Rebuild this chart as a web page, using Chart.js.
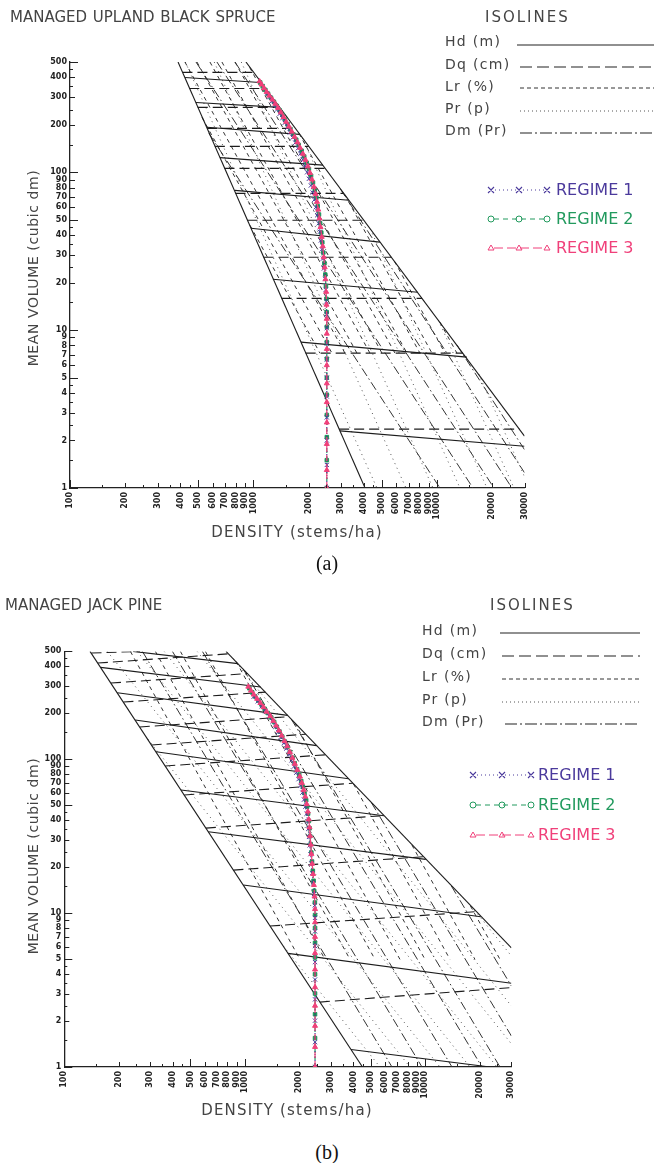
<!DOCTYPE html>
<html>
<head>
<meta charset="utf-8">
<script src="https://cdn.jsdelivr.net/npm/chart.js@4.4.0/dist/chart.umd.min.js"></script>
<style>
  body { margin: 0; background: #fff; }
  #page { position: relative; width: 654px; height: 1163px; overflow: hidden; font-family: "DejaVu Sans", sans-serif; color: #444; }
  .t { position: absolute; white-space: nowrap; line-height: 1; }
  .ttl { font-size: 15px; letter-spacing: 0px; word-spacing: 1px; }
  .iso { font-size: 15px; letter-spacing: 2px; }
  .row { font-size: 14px; letter-spacing: 1.3px; }
  .reg { font-size: 16px; }
  .xt { font-size: 15px; letter-spacing: 1.2px; width: 300px; text-align: center; }
  .yt { font-size: 14px; letter-spacing: 0.6px; transform: translate(-50%, -50%) rotate(-90deg); }
  .cap { font-family: "Liberation Serif", serif; font-size: 20px; color: #111; transform: translate(-50%, -50%); }
  svg { position: absolute; overflow: visible; }
  canvas { position: absolute; left: 0; }
</style>
</head>
<body>
<div id="page">
  <canvas id="chartA" width="654" height="545" style="top:0px"></canvas>
  <canvas id="chartB" width="654" height="545" style="top:590px"></canvas>

  <!-- panel (a) texts -->
  <div class="t ttl" style="left:10px; top:10px">MANAGED UPLAND BLACK SPRUCE</div>
  <div class="t iso" style="left:485px; top:10px">ISOLINES</div>
  <div class="t row" style="left:445px; top:34px">Hd (m)</div>
  <div class="t row" style="left:445px; top:57px">Dq (cm)</div>
  <div class="t row" style="left:445px; top:79px">Lr (%)</div>
  <div class="t row" style="left:445px; top:101px">Pr (p)</div>
  <div class="t row" style="left:445px; top:123px">Dm (Pr)</div>
  <svg style="left:517px; top:45px" width="137" height="1"><line x1="0" y1="0" x2="137" y2="0" stroke="#222" stroke-width="1.2"/></svg>
  <svg style="left:520px; top:67px" width="134" height="1"><line x1="0" y1="0" x2="134" y2="0" stroke="#222" stroke-width="1.2" stroke-dasharray="12 5"/></svg>
  <svg style="left:520px; top:88px" width="134" height="1"><line x1="0" y1="0" x2="134" y2="0" stroke="#333" stroke-width="1" stroke-dasharray="4 3"/></svg>
  <svg style="left:520px; top:111px" width="134" height="1"><line x1="0" y1="0" x2="134" y2="0" stroke="#555" stroke-width="1" stroke-dasharray="1 3"/></svg>
  <svg style="left:520px; top:133px" width="134" height="1"><line x1="0" y1="0" x2="134" y2="0" stroke="#222" stroke-width="1.2" stroke-dasharray="12 3 2 3"/></svg>

  <svg style="left:491px; top:190px" width="56" height="1">
    <line x1="0" y1="0" x2="56" y2="0" stroke="#4b3a9c" stroke-width="1" stroke-dasharray="1 3"/>
    <path d="M-3,-3 L3,3 M-3,3 L3,-3 M25,-3 L31,3 M25,3 L31,-3 M53,-3 L59,3 M53,3 L59,-3" stroke="#4b3a9c" stroke-width="1.1"/>
  </svg>
  <svg style="left:491px; top:219px" width="56" height="1">
    <line x1="3" y1="0" x2="53" y2="0" stroke="#229a5e" stroke-width="1" stroke-dasharray="5 4"/>
    <circle cx="0" cy="0" r="3" fill="none" stroke="#229a5e"/><circle cx="28" cy="0" r="3" fill="none" stroke="#229a5e"/><circle cx="56" cy="0" r="3" fill="none" stroke="#229a5e"/>
  </svg>
  <svg style="left:491px; top:248px" width="56" height="1">
    <line x1="3" y1="0" x2="53" y2="0" stroke="#f0407a" stroke-width="1" stroke-dasharray="9 4"/>
    <path d="M-3,2 L0,-3 L3,2 Z M25,2 L28,-3 L31,2 Z M53,2 L56,-3 L59,2 Z" fill="none" stroke="#f0407a" stroke-width="1"/>
  </svg>
  <div class="t reg" style="left:556px; top:182px; color:#4b3a9c">REGIME 1</div>
  <div class="t reg" style="left:556px; top:211px; color:#229a5e">REGIME 2</div>
  <div class="t reg" style="left:556px; top:240px; color:#f0407a">REGIME 3</div>
  <div class="t yt" style="left:33px; top:268px">MEAN VOLUME (cubic dm)</div>
  <div class="t xt" style="left:147px; top:525px">DENSITY (stems/ha)</div>
  <div class="t cap" style="left:327px; top:563px">(a)</div>

  <!-- panel (b) texts -->
  <div class="t ttl" style="left:5px; top:598px">MANAGED JACK PINE</div>
  <div class="t iso" style="left:490px; top:598px">ISOLINES</div>
  <div class="t row" style="left:422px; top:623px">Hd (m)</div>
  <div class="t row" style="left:422px; top:646px">Dq (cm)</div>
  <div class="t row" style="left:422px; top:669px">Lr (%)</div>
  <div class="t row" style="left:422px; top:692px">Pr (p)</div>
  <div class="t row" style="left:422px; top:714px">Dm (Pr)</div>
  <svg style="left:500px; top:633px" width="140" height="1"><line x1="0" y1="0" x2="140" y2="0" stroke="#222" stroke-width="1.2"/></svg>
  <svg style="left:502px; top:656px" width="138" height="1"><line x1="0" y1="0" x2="138" y2="0" stroke="#222" stroke-width="1.2" stroke-dasharray="12 5"/></svg>
  <svg style="left:502px; top:679px" width="138" height="1"><line x1="0" y1="0" x2="138" y2="0" stroke="#333" stroke-width="1" stroke-dasharray="4 3"/></svg>
  <svg style="left:502px; top:702px" width="138" height="1"><line x1="0" y1="0" x2="138" y2="0" stroke="#555" stroke-width="1" stroke-dasharray="1 3"/></svg>
  <svg style="left:505px; top:724px" width="135" height="1"><line x1="0" y1="0" x2="135" y2="0" stroke="#222" stroke-width="1.2" stroke-dasharray="12 3 2 3"/></svg>

  <svg style="left:473px; top:775px" width="58" height="1">
    <line x1="0" y1="0" x2="58" y2="0" stroke="#4b3a9c" stroke-width="1" stroke-dasharray="1 3"/>
    <path d="M-3,-3 L3,3 M-3,3 L3,-3 M26,-3 L32,3 M26,3 L32,-3 M55,-3 L61,3 M55,3 L61,-3" stroke="#4b3a9c" stroke-width="1.1"/>
  </svg>
  <svg style="left:473px; top:805px" width="58" height="1">
    <line x1="3" y1="0" x2="55" y2="0" stroke="#229a5e" stroke-width="1" stroke-dasharray="5 4"/>
    <circle cx="0" cy="0" r="3" fill="none" stroke="#229a5e"/><circle cx="29" cy="0" r="3" fill="none" stroke="#229a5e"/><circle cx="58" cy="0" r="3" fill="none" stroke="#229a5e"/>
  </svg>
  <svg style="left:473px; top:835px" width="58" height="1">
    <line x1="3" y1="0" x2="55" y2="0" stroke="#f0407a" stroke-width="1" stroke-dasharray="9 4"/>
    <path d="M-3,2 L0,-3 L3,2 Z M26,2 L29,-3 L32,2 Z M55,2 L58,-3 L61,2 Z" fill="none" stroke="#f0407a" stroke-width="1"/>
  </svg>
  <div class="t reg" style="left:538px; top:767px; color:#4b3a9c">REGIME 1</div>
  <div class="t reg" style="left:538px; top:797px; color:#229a5e">REGIME 2</div>
  <div class="t reg" style="left:538px; top:827px; color:#f0407a">REGIME 3</div>
  <div class="t yt" style="left:33px; top:856px">MEAN VOLUME (cubic dm)</div>
  <div class="t xt" style="left:137px; top:1103px">DENSITY (stems/ha)</div>
  <div class="t cap" style="left:327px; top:1152px">(b)</div>
</div>

<script>
// axis ticks and labels (stems/ha on x, cubic dm on y)
const xTickVals = [100,150,200,250,300,350,400,450,500,600,700,800,900,1000,1500,2000,2500,3000,3500,4000,4500,5000,6000,7000,8000,9000,10000,15000,20000,25000,30000];
const xLabelVals = [100,200,300,400,500,600,700,800,900,1000,2000,3000,4000,5000,6000,7000,8000,9000,10000,20000,30000];
const yTickVals = [1,1.5,2,2.5,3,3.5,4,4.5,5,6,7,8,9,10,15,20,25,30,35,40,45,50,60,70,80,90,100,150,200,250,300,350,400,450,500];
const yLabelVals = [1,2,3,4,5,6,7,8,9,10,20,30,40,50,60,70,80,90,100,200,300,400,500];

// isolines, each [N1, V1, N2, V2] -- (a) black spruce
const boundA = [[388,500,4055,1],[910,500,30000,2.13]];
const hdA = [[424,399,1084,371],[486,277,1394,258],[558,193,1780,174],[656,124,2392,111],[792,76.9,3311,66.5],[969,44.2,4887,36.1],[1276,21.0,7870,17.4],[1815,8.40,14550,6.75],[2958,2.30,30000,1.84]];
const dqA = [[410,430,1000,430],[447,340,1161,340],[497,258,1387,258],[558,190,1687,190],[616,146,1999,146],[695,106,2455,106],[798,73.6,3101,73.6],[927,49.7,4000,49.7],[1135,29.0,5652,29.0],[1423,15.9,8299,15.9],[1925,7.15,13870,7.15],[2930,2.36,28250,2.36]];
const lrA = [[957,46.2,2303,7.15],[524,223,2678,7.15],[423,500,3152,7.15],[492,500,3664,7.15],[579,500,4314,7.15],[673,500,5015,7.15],[793,500,5904,7.15],[953,462,6863,7.15],[1770,176.5,8080,7.15],[3133,72.6,9394,7.15],[5867,27.3,11060,7.15],[10380,11.23,12850,7.15]];
const prA = [[425,500,4710,1],[611,500,6778,1],[858,500,9512,1],[1845,165.4,13350,1],[4330,43.8,18730,1],[10180,11.57,26280,1],[16880,5.27,30000,1.18]];
const dmA = [[572,176.5,10380,1],[486,500,15710,1],[632,500,20450,1],[793,500,25630,1],[2972,78.6,30000,1.25],[12850,8.04,30000,1.75]];

// regimes (a)
const r1A_V = [1.0,1.4,2.0,2.8,3.8,5.0,6.5,8.2,10.3,12.6,15.2,18,21.2,24.6,28.4,32.5,37,42,47.5,53.5,60,67,74.5,82.5,91,100,110,120,131,142,154,166,179,192,206,220,235,250,266,282,299,316];
const r1A_N = [2510,2510,2510,2510,2510,2510,2510,2510,2510,2505,2495,2475,2450,2420,2390,2360,2330,2300,2265,2225,2185,2145,2100,2055,2005,1960,1905,1855,1800,1745,1690,1635,1580,1530,1480,1435,1390,1345,1300,1260,1220,1185];
const r2A_V = [1.0,1.5,2.1,2.9,3.9,5.0,6.6,8.4,10.5,13,15.8,19,22.5,26.5,31,36,41.5,47.5,54,61,69,77,86,95,105,115,126,137,149,161,174,188,202,216,231,247,263,280,297,315,333,352,371];
const r2A_N = [2510,2510,2510,2510,2510,2510,2510,2510,2510,2506,2498,2483,2462,2435,2402,2372,2342,2308,2275,2240,2200,2158,2110,2060,2005,1950,1890,1830,1765,1710,1650,1590,1535,1485,1438,1388,1340,1292,1245,1200,1160,1122,1088];
const r3A_V = [1.0,1.3,1.9,2.6,3.5,4.6,6.0,7.6,9.5,11.8,14.5,17.5,21,25,29,34,39,45,51,58,65,73,81,90,99,109,120,131,143,155,168,181,195,209,224,240,256,272,289,306,323,341,360,377];
const r3A_N = [2510,2510,2510,2510,2510,2510,2510,2510,2510,2508,2500,2490,2470,2445,2417,2385,2355,2320,2290,2255,2220,2180,2135,2085,2035,1980,1920,1860,1795,1738,1675,1618,1562,1508,1460,1410,1362,1315,1268,1220,1180,1143,1106,1080];

// isolines (b) jack pine
const boundB = [[138.8,500,4488,1],[787,500,30000,5.93]];
const hdB = [[240.3,500,917,416.4],[159.1,394,1222,293.5],[196.6,269.5,1729,192.2],[247.1,179.2,2502,122.2],[322.1,111.5,3753,74.5],[443.1,62.9,5905,42.8],[628.5,33.7,10065,22.3],[981.1,15.2,20300,9.46],[1735,5.47,30000,3.50],[3876,1.30,22830,1]];
const dqB = [[141.5,488,262.7,500],[153.5,420.2,814.4,482.1],[181.4,311.5,1036,359.1],[212.6,234.5,1300,271.9],[262.0,161.4,1755,188.5],[304.6,123.3,2178,144.9],[362.6,90.1,2800,106.5],[462.2,58.4,3965,69.6],[608.8,35.6,5897,42.9],[864.7,19.0,9748,23.2],[1381,8.23,19070,10.2],[2607,2.64,30000,3.28]];
const lrB = [[232.4,500,2022,5],[319.7,500,2782,5],[439.8,500,3826,5],[604.9,500,5264,5],[896.1,429.1,7239,5],[1892,172.1,9961,5],[4001,68.9,13700,5],[8438,27.6,18850,5],[17800,11.1,25940,5]];
const prB = [[172.9,500,12060,1],[253.5,500,17690,1],[357.6,500,24960,1],[544.9,500,30000,1.414],[862.5,449.5,30000,2.49],[18710,10.46,30000,5.26],[289.7,134.9,8226,1],[1634,6.11,5610,1]];
const dmB = [[270.8,500,6539,1],[397.2,500,9588,1],[582.2,500,14060,1],[978.6,385.2,20610,1],[1808,181.9,25940,1],[5022,52.2,30000,1.589],[13950,14.97,30000,3.357]];

// regimes (b)
const r1B_V = [1.0,1.45,2.0,2.75,3.7,4.8,6.1,7.6,9.3,11.2,13.3,15.6,18.2,21,24.1,27.5,31.2,35.2,39.5,44.1,49,54.5,60.5,67,74,81.5,89.5,98,107,117,127,138,150,162,175,189,204,220,237,254];
const r1B_N = [2450,2450,2450,2450,2450,2450,2450,2450,2450,2440,2420,2395,2365,2335,2310,2288,2268,2248,2225,2198,2165,2128,2085,2035,1985,1930,1875,1815,1760,1700,1645,1585,1530,1478,1425,1370,1300,1240,1180,1120];
const r2B_V = [1.0,1.54,2.2,3.0,4.0,5.15,6.4,8.0,9.7,11.7,13.9,16.2,18.8,21.6,24.7,28,31.6,35.5,39.7,44.2,49,54,60,66,72,79,86,94,102,111,120,130,140,151,162,174,186,199,212,226,240,255,271,288];
const r2B_N = [2450,2450,2450,2450,2450,2450,2450,2450,2450,2445,2425,2405,2382,2358,2337,2318,2302,2286,2266,2242,2216,2188,2142,2097,2055,2003,1948,1890,1835,1778,1722,1665,1612,1556,1505,1455,1402,1340,1288,1238,1190,1140,1098,1060];
const r3B_V = [1.0,1.35,1.85,2.5,3.3,4.3,5.5,7.0,8.7,10.6,12.8,15.2,17.9,20.9,24.2,27.8,31.7,36,40.6,45.6,51,57,63,70,77,85,93,102,111,121,131,142,153,165,177,190,203,217,231,246,262,278,295];
const r3B_N = [2450,2450,2450,2450,2450,2450,2450,2450,2450,2450,2435,2415,2390,2362,2340,2320,2302,2284,2262,2235,2205,2165,2120,2070,2020,1955,1895,1835,1778,1718,1660,1602,1548,1492,1440,1385,1322,1270,1220,1170,1122,1082,1046];

const PURPLE = '#4b3a9c', GREEN = '#229a5e', PINK = '#f0407a';
const styles = {
    bound: {color: '#1c1c1c', width: 1.1, dash: []},
    hd: {color: '#1c1c1c', width: 1.1, dash: []},
    dq: {color: '#1c1c1c', width: 1.1, dash: [10, 5]},
    lr: {color: '#333', width: 1, dash: [4, 4]},
    pr: {color: '#555', width: 1, dash: [1, 4]},
    dm: {color: '#333', width: 1, dash: [9, 3, 1.5, 3]}
};

function segments(list, st) {
    return list.map(([n1, v1, n2, v2]) => ({
        data: [{x: n1, y: v1}, {x: n2, y: v2}],
        showLine: true,
        pointRadius: 0,
        borderColor: st.color,
        borderWidth: st.width,
        borderDash: st.dash,
        order: 5
    }));
}

function regime(N, V, color, dash, marker, size, fill, order) {
    return {
        data: N.map((n, i) => ({x: n, y: V[i]})),
        showLine: true,
        borderColor: color,
        borderWidth: 1.2,
        borderDash: dash,
        pointStyle: marker,
        pointRadius: size,
        pointBackgroundColor: fill,
        pointBorderColor: color,
        pointBorderWidth: 1,
        order: order
    };
}

function tickLength(v) {
    const e = Math.pow(10, Math.floor(Math.log10(v) + 1e-9));
    const m = Math.round(v / e * 10) / 10;
    if (m === 1 || m === 5) return 8;
    if (Number.isInteger(m)) return 5;
    return 3;
}

// ticks point into the plot, as on the original plotter output
const inwardTicks = {
    id: 'inwardTicks',
    afterDraw(chart) {
        const {ctx, chartArea: a, scales: {x, y}} = chart;
        ctx.save();
        ctx.strokeStyle = '#222';
        ctx.lineWidth = 1;
        ctx.beginPath();
        xTickVals.forEach(v => {
            const px = Math.round(x.getPixelForValue(v)) + 0.5;
            ctx.moveTo(px, a.bottom);
            ctx.lineTo(px, a.bottom - tickLength(v));
        });
        yTickVals.forEach(v => {
            const py = Math.round(y.getPixelForValue(v)) + 0.5;
            ctx.moveTo(a.left, py);
            ctx.lineTo(a.left + tickLength(v), py);
        });
        ctx.stroke();
        ctx.restore();
    }
};

function makeChart(id, d) {
    const datasets = [
        regime(d.r3N, d.r3V, PINK, [6, 3], 'triangle', 2.9, PINK, 0),
        regime(d.r1N, d.r1V, PURPLE, [1, 2], 'crossRot', 3, PURPLE, 1),
        regime(d.r2N, d.r2V, GREEN, [4, 3], 'rect', 2.5, '#1f7d55', 2),
        ...segments(d.bound, styles.bound),
        ...segments(d.hd, styles.hd),
        ...segments(d.dq, styles.dq),
        ...segments(d.lr, styles.lr),
        ...segments(d.pr, styles.pr),
        ...segments(d.dm, styles.dm)
    ];
    new Chart(document.getElementById(id), {
        type: 'scatter',
        data: {datasets: datasets},
        options: {
            responsive: false,
            animation: false,
            events: [],
            layout: {padding: {left: 0, top: d.top, right: d.right, bottom: d.bottom}},
            plugins: {legend: {display: false}, tooltip: {enabled: false}},
            scales: {
                x: {
                    type: 'logarithmic',
                    min: 100,
                    max: 30000,
                    afterBuildTicks: ax => { ax.ticks = xTickVals.map(v => ({value: v})); },
                    afterFit: ax => { ax.height = 50; },
                    ticks: {
                        autoSkip: false,
                        minRotation: 90,
                        maxRotation: 90,
                        padding: 4,
                        color: '#222',
                        font: {family: 'DejaVu Sans', size: 8, weight: 'bold'},
                        callback: v => xLabelVals.includes(v) ? String(v) : ''
                    },
                    grid: {display: true, drawOnChartArea: false, drawTicks: false},
                    border: {display: true, color: '#222', width: 1.3}
                },
                y: {
                    type: 'logarithmic',
                    min: 1,
                    max: 500,
                    afterBuildTicks: ax => { ax.ticks = yTickVals.map(v => ({value: v})); },
                    afterFit: ax => { ax.width = d.yWidth; },
                    ticks: {
                        autoSkip: false,
                        padding: 3,
                        color: '#222',
                        font: {family: 'DejaVu Sans', size: 8, weight: 'bold'},
                        callback: v => yLabelVals.includes(v) ? String(v) : ''
                    },
                    grid: {display: true, drawOnChartArea: false, drawTicks: false},
                    border: {display: true, color: '#222', width: 1.3}
                }
            }
        },
        plugins: [inwardTicks]
    });
}

makeChart('chartA', {
    top: 62, right: 129.5, bottom: 7, yWidth: 70,
    bound: boundA, hd: hdA, dq: dqA, lr: lrA, pr: prA, dm: dmA,
    r1N: r1A_N, r1V: r1A_V, r2N: r2A_N, r2V: r2A_V, r3N: r3A_N, r3V: r3A_V
});
makeChart('chartB', {
    top: 61.4, right: 142.6, bottom: 18, yWidth: 64.3,
    bound: boundB, hd: hdB, dq: dqB, lr: lrB, pr: prB, dm: dmB,
    r1N: r1B_N, r1V: r1B_V, r2N: r2B_N, r2V: r2B_V, r3N: r3B_N, r3V: r3B_V
});
</script>
</body>
</html>
